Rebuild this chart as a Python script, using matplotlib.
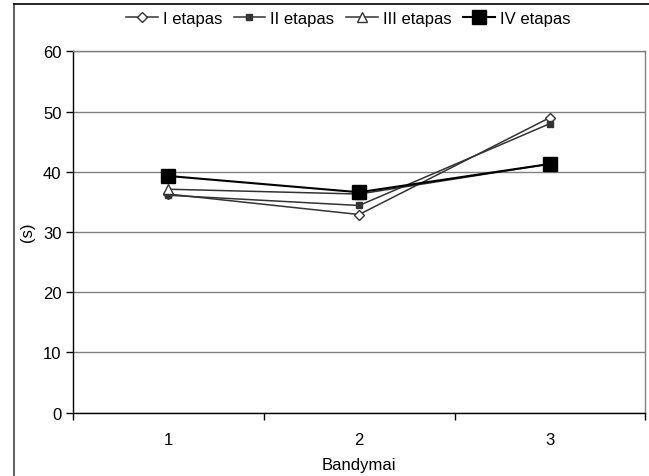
import numpy as np
import matplotlib
matplotlib.use("Agg")
import matplotlib.pyplot as plt
from matplotlib.lines import Line2D

plt.rcParams["font.family"] = ["Liberation Sans", "DejaVu Sans"]
plt.rcParams["font.size"] = 12

# series per stage, over the three trials
bandymai = [1, 2, 3]
etapas_I = [36.3, 32.9, 49.0]
etapas_II = [36.1, 34.4, 48.0]
etapas_III = [37.1, 36.3, 41.3]
etapas_IV = [39.3, 36.6, 41.3]
tick_labels = ["1", "2", "3"]

fig = plt.figure(figsize=(6.49, 4.77), dpi=100)
ax = fig.add_axes([0.112, 0.1327, 0.8826, 0.7577])

x = np.array(bandymai)
ax.plot(x, etapas_I, color="#333333", lw=1.1, marker="D", ms=5.5,
        mfc="white", mec="#333333", mew=1.0, label="I etapas", zorder=2)
ax.plot(x, etapas_II, color="#333333", lw=1.1, marker="s", ms=4,
        mfc="#333333", mec="#333333", label="II etapas", zorder=3)
ax.plot(x, etapas_III, color="#333333", lw=1.1, marker="^", ms=7,
        mfc="white", mec="#333333", mew=1.0, label="III etapas", zorder=3)
ax.plot(x, etapas_IV, color="black", lw=1.5, marker="s", ms=9.5,
        mfc="black", mec="black", label="IV etapas", zorder=4)

ax.set_xlim(0.5, 3.5)
ax.set_ylim(0, 60)
ax.set_yticks(range(0, 61, 10))
ax.set_xticks(x)
ax.set_xticklabels(tick_labels)
ax.set_xticks([0.5, 1.5, 2.5, 3.5], minor=True)
ax.tick_params(axis="x", which="major", length=0, pad=14)
ax.tick_params(axis="x", which="minor", length=5, direction="out", width=1)
ax.tick_params(axis="y", length=5, direction="out", width=1, pad=3)

ax.grid(axis="y", color="#808080", lw=1)
ax.set_axisbelow(True)
for side in ("top", "right"):
    ax.spines[side].set_color("#808080")
    ax.spines[side].set_linewidth(1)
for side in ("left", "bottom"):
    ax.spines[side].set_color("black")
    ax.spines[side].set_linewidth(1)

ax.set_xlabel("Bandymai", labelpad=7)
fig.text(28 / 649, 1 - 232 / 477, "(s)", rotation=90, ha="center", va="center")

fig.legend(loc="upper center", bbox_to_anchor=(348 / 649, 1 - 5 / 477), ncol=4,
           frameon=False, handlelength=1.9, handletextpad=0.3,
           columnspacing=0.7, borderaxespad=0)

# outer chart border (left and top edges)
fig.add_artist(Line2D([13.5 / 649, 13.5 / 649], [0, 1 - 5 / 477],
                      transform=fig.transFigure, color="#444444", lw=1.2))
fig.add_artist(Line2D([13.5 / 649, 1], [1 - 5 / 477, 1 - 5 / 477],
                      transform=fig.transFigure, color="black", lw=1.2))

fig.savefig("out.png", dpi=100)
